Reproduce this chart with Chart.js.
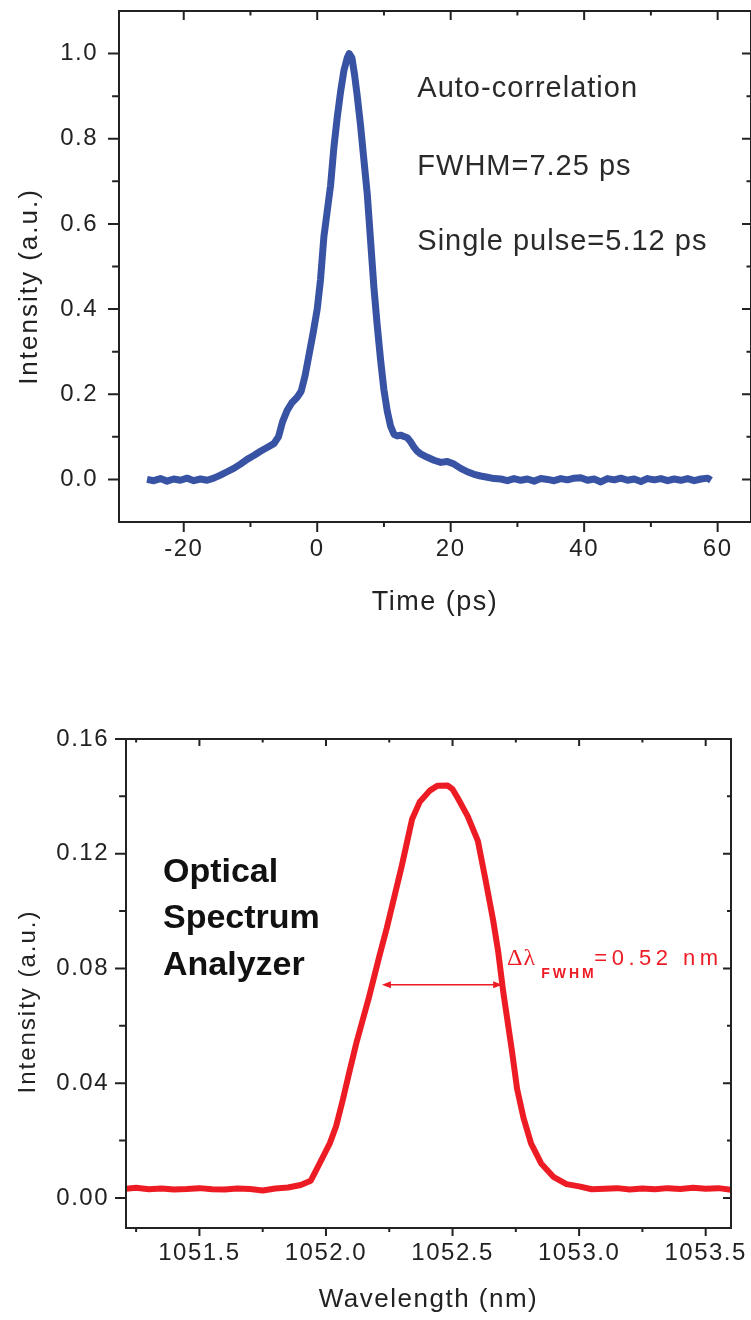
<!DOCTYPE html>
<html>
<head>
<meta charset="utf-8">
<script src="https://cdn.jsdelivr.net/npm/chart.js@4.4.1/dist/chart.umd.min.js"></script>
<style>
  body { margin: 0; background: #fff; }
  canvas { position: absolute; left: 0; }
  #acChart { top: 0; }
  #osaChart { top: 660px; }
</style>
</head>
<body>
<canvas id="acChart" width="751" height="640"></canvas>
<canvas id="osaChart" width="751" height="660"></canvas>
<script>
'use strict';

// --- auto-correlation trace (top panel) ---
var acTime = [-25.5, -24.5, -23.5, -22.5, -21.5, -20.5, -19.5, -18.5, -17.5, -16.5,
  -15.5, -14.5, -13.5, -12.5, -11.5, -10.5, -9.5, -8.5, -7.5, -6.5,
  -5.8, -5.2, -4.5, -3.8, -3.0, -2.4, -1.8, -1.2, -0.6, 0.0,
  0.5, 1.0, 1.5, 2.0, 2.5, 3.0, 3.5, 4.0, 4.5, 4.8,
  5.2, 5.6, 6.0, 6.5, 7.0, 7.5, 8.0, 8.5, 9.0, 9.5,
  10.0, 10.5, 11.0, 11.5, 12.0, 12.5, 13.0, 13.5, 14.0, 14.5,
  15.0, 15.5, 16.5, 17.5, 18.5, 19.5, 20.5, 21.5, 22.5, 23.5,
  24.5, 25.5, 26.5, 27.5, 28.5, 29.5, 30.5, 31.5, 32.5, 33.5,
  34.5, 35.5, 36.5, 37.5, 38.5, 39.5, 40.5, 41.5, 42.5, 43.5,
  44.5, 45.5, 46.5, 47.5, 48.5, 49.5, 50.5, 51.5, 52.5, 53.5,
  54.5, 55.5, 56.5, 57.5, 58.5, 59.0];
var acIntensity = [0.000, -0.003, 0.002, -0.004, 0.001, -0.002, 0.003, -0.003, 0.001, -0.002,
  0.003, 0.010, 0.018, 0.026, 0.036, 0.047, 0.056, 0.066, 0.075, 0.084,
  0.100, 0.135, 0.162, 0.180, 0.193, 0.207, 0.245, 0.295, 0.345, 0.400,
  0.470, 0.570, 0.630, 0.690, 0.780, 0.850, 0.910, 0.960, 0.990, 1.000,
  0.990, 0.950, 0.900, 0.830, 0.750, 0.670, 0.560, 0.450, 0.360, 0.280,
  0.210, 0.160, 0.125, 0.106, 0.102, 0.104, 0.101, 0.098, 0.088, 0.076,
  0.066, 0.060, 0.052, 0.045, 0.040, 0.042, 0.036, 0.026, 0.018, 0.012,
  0.008, 0.005, 0.002, 0.001, -0.003, 0.002, -0.002, 0.001, -0.004, 0.002,
  0.000, -0.003, 0.002, -0.001, 0.003, 0.004, -0.002, 0.001, -0.006, 0.002,
  -0.001, 0.003, -0.002, 0.001, -0.005, 0.002, -0.001, 0.002, -0.003, 0.001,
  -0.002, 0.002, -0.003, 0.001, 0.003, -0.002];
var acXTicks = [-20, 0, 20, 40, 60];
var acXMinor = [-10, 10, 30, 50];
var acYTicks = [0, 0.2, 0.4, 0.6, 0.8, 1.0];
var acYMinor = [0.1, 0.3, 0.5, 0.7, 0.9];

// --- optical spectrum (bottom panel) ---
var osaWavelength = [1051.21, 1051.25, 1051.30, 1051.35, 1051.40, 1051.45, 1051.50, 1051.55, 1051.60, 1051.65,
  1051.70, 1051.75, 1051.80, 1051.85, 1051.90, 1051.94, 1051.975, 1052.015, 1052.04, 1052.066,
  1052.09, 1052.12, 1052.145, 1052.17, 1052.21, 1052.24, 1052.27, 1052.30, 1052.32, 1052.34,
  1052.37, 1052.41, 1052.44, 1052.48, 1052.50, 1052.52, 1052.56, 1052.60, 1052.63, 1052.66,
  1052.68, 1052.70, 1052.72, 1052.735, 1052.755, 1052.78, 1052.81, 1052.85, 1052.90, 1052.95,
  1053.00, 1053.05, 1053.10, 1053.15, 1053.20, 1053.25, 1053.30, 1053.35, 1053.40, 1053.45,
  1053.50, 1053.55, 1053.60];
var osaIntensity = [0.0032, 0.0035, 0.0030, 0.0033, 0.0029, 0.0031, 0.0034, 0.0030, 0.0029, 0.0033,
  0.0031, 0.0026, 0.0033, 0.0036, 0.0045, 0.0060, 0.0120, 0.0190, 0.0250, 0.0340,
  0.0430, 0.0540, 0.0620, 0.0700, 0.0840, 0.0940, 0.1050, 0.1160, 0.1240, 0.1320,
  0.1380, 0.1420, 0.1437, 0.1438, 0.1425, 0.1395, 0.1330, 0.1245, 0.1110, 0.0970,
  0.0860, 0.0720, 0.0600, 0.0510, 0.0380, 0.0280, 0.0190, 0.0120, 0.0072, 0.0048,
  0.0040, 0.0030, 0.0032, 0.0034, 0.0029, 0.0033, 0.0030, 0.0034, 0.0031, 0.0035,
  0.0032, 0.0034, 0.0028];
var osaXTicks = [1051.5, 1052.0, 1052.5, 1053.0, 1053.5];
var osaXMinor = [1051.25, 1051.75, 1052.25, 1052.75, 1053.25];
var osaYTicks = [0, 0.04, 0.08, 0.12, 0.16];
var osaYMinor = [0.02, 0.06, 0.10, 0.14];

var FONT = '"Liberation Sans", Arial, sans-serif';
var INK = '#222';
var BLUE = '#3953a4';
var RED = '#ed1c24';

function toPoints(xs, ys) {
  return xs.map(function (x, i) { return {x: x, y: ys[i]}; });
}

function fixedTicks(values) {
  return function (scale) {
    scale.ticks = values.map(function (v) { return {value: v}; });
  };
}

// box frame, tick marks, y title and text notes
function framePlugin(f) {
  return {
    id: 'frame',
    beforeDraw: function (chart) {
      chart.ctx.letterSpacing = '1.5px';
    },
    afterDraw: function (chart) {
      var ctx = chart.ctx, a = chart.chartArea;
      var sx = chart.scales.x, sy = chart.scales.y;
      ctx.save();
      ctx.strokeStyle = INK;
      ctx.lineWidth = 2;
      ctx.strokeRect(a.left, a.top, a.right - a.left, a.bottom - a.top);
      ctx.beginPath();
      function xMarks(vals, out, inn) {
        vals.forEach(function (v) {
          var px = sx.getPixelForValue(v);
          ctx.moveTo(px, a.bottom); ctx.lineTo(px, a.bottom + out);
          ctx.moveTo(px, a.top); ctx.lineTo(px, a.top + inn);
        });
      }
      function yMarks(vals, out, inn) {
        vals.forEach(function (v) {
          var py = sy.getPixelForValue(v);
          ctx.moveTo(a.left - out, py); ctx.lineTo(a.left, py);
          ctx.moveTo(a.right, py); ctx.lineTo(a.right - inn, py);
        });
      }
      xMarks(f.xMajor, f.tick[0], f.tick[1]);
      xMarks(f.xMinor, f.tick[0] / 2, f.tick[1] / 2);
      yMarks(f.yMajor, f.tick[2], f.tick[3]);
      yMarks(f.yMinor, f.tick[2] / 1.6, f.tick[3] / 2);
      ctx.stroke();

      // rotated y title
      ctx.save();
      ctx.translate(f.yTitle.x, (a.top + a.bottom) / 2 + f.yTitle.shift);
      ctx.rotate(-Math.PI / 2);
      ctx.fillStyle = INK;
      ctx.font = f.yTitle.size + 'px ' + FONT;
      ctx.letterSpacing = '2px';
      ctx.textAlign = 'center';
      ctx.textBaseline = 'middle';
      ctx.fillText('Intensity (a.u.)', 0, 0);
      ctx.restore();

      // notes placed in data coordinates
      ctx.textAlign = 'left';
      ctx.textBaseline = 'alphabetic';
      f.notes.forEach(function (n) {
        ctx.font = n.font;
        ctx.fillStyle = n.color;
        ctx.letterSpacing = n.spacing;
        ctx.fillText(n.text, sx.getPixelForValue(n.x), sy.getPixelForValue(n.y));
      });

      if (f.arrow) {
        var x0 = sx.getPixelForValue(f.arrow.x0);
        var x1 = sx.getPixelForValue(f.arrow.x1);
        var y = sy.getPixelForValue(f.arrow.y);
        ctx.strokeStyle = f.arrow.color;
        ctx.fillStyle = f.arrow.color;
        ctx.lineWidth = 1.5;
        ctx.beginPath();
        ctx.moveTo(x0 + 6, y); ctx.lineTo(x1 - 6, y);
        ctx.stroke();
        ctx.beginPath();
        ctx.moveTo(x0, y); ctx.lineTo(x0 + 9, y - 3.5); ctx.lineTo(x0 + 9, y + 3.5);
        ctx.closePath();
        ctx.moveTo(x1, y); ctx.lineTo(x1 - 9, y - 3.5); ctx.lineTo(x1 - 9, y + 3.5);
        ctx.closePath();
        ctx.fill();
      }
      ctx.restore();
    }
  };
}

function axis(min, max, ticks, fmt, pad, fit, title) {
  return {
    type: 'linear',
    min: min,
    max: max,
    afterBuildTicks: fixedTicks(ticks),
    afterFit: function (s) {
      fit(s);
      s.paddingTop = 0; s.paddingBottom = 0;
      s.paddingLeft = 0; s.paddingRight = 0;
    },
    grid: {display: false, drawTicks: false},
    border: {display: false},
    ticks: {
      padding: pad,
      color: INK,
      autoSkip: false,
      maxRotation: 0,
      font: {family: FONT, size: 24},
      callback: fmt
    },
    title: title || {display: false}
  };
}

// Auto-correlation
new Chart(document.getElementById('acChart'), {
  type: 'scatter',
  data: {
    datasets: [{
      data: toPoints(acTime, acIntensity),
      showLine: true,
      borderColor: BLUE,
      backgroundColor: BLUE,
      borderWidth: 7,
      borderJoinStyle: 'round',
      pointRadius: 0
    }]
  },
  options: {
    responsive: false,
    animation: false,
    layout: {padding: {top: 11, right: 0, bottom: 0, left: 0}},
    plugins: {legend: {display: false}, tooltip: {enabled: false}},
    scales: {
      x: axis(-29.7, 65, acXTicks, function (v) { return String(v); }, 13,
        function (s) { s.height = 118; },
        {display: true, text: 'Time (ps)', color: INK, font: {family: FONT, size: 27}, padding: {top: 0, bottom: 21}}),
      y: axis(-0.1, 1.1, acYTicks, function (v) { return v.toFixed(1); }, 21,
        function (s) { s.width = 119; })
    }
  },
  plugins: [framePlugin({
    xMajor: acXTicks, xMinor: acXMinor, yMajor: acYTicks, yMinor: acYMinor,
    tick: [10, 9, 11, 9],
    yTitle: {x: 30, shift: 20, size: 26},
    notes: [
      {text: 'Auto-correlation', x: 15, y: 0.897, font: '29px ' + FONT, color: '#2a2a2a', spacing: '1px'},
      {text: 'FWHM=7.25 ps', x: 15, y: 0.714, font: '29px ' + FONT, color: '#2a2a2a', spacing: '1px'},
      {text: 'Single pulse=5.12 ps', x: 15, y: 0.539, font: '29px ' + FONT, color: '#2a2a2a', spacing: '1px'}
    ]
  })]
});

// Optical spectrum
new Chart(document.getElementById('osaChart'), {
  type: 'scatter',
  data: {
    datasets: [{
      data: toPoints(osaWavelength, osaIntensity),
      showLine: true,
      borderColor: RED,
      backgroundColor: RED,
      borderWidth: 6,
      borderJoinStyle: 'round',
      pointRadius: 0
    }]
  },
  options: {
    responsive: false,
    animation: false,
    layout: {padding: {top: 79, right: 20, bottom: 0, left: 0}},
    plugins: {legend: {display: false}, tooltip: {enabled: false}},
    scales: {
      x: axis(1051.21, 1053.6, osaXTicks, function (v) { return v.toFixed(1); }, 11,
        function (s) { s.height = 92; },
        {display: true, text: 'Wavelength (nm)', color: INK, font: {family: FONT, size: 26}, padding: {top: 0, bottom: 5}}),
      y: axis(-0.0105, 0.16, osaYTicks, function (v) { return v.toFixed(2); }, 17,
        function (s) { s.width = 126; })
    }
  },
  plugins: [framePlugin({
    xMajor: osaXTicks, xMinor: osaXMinor, yMajor: osaYTicks, yMinor: osaYMinor,
    tick: [8, 7, 11, 8],
    yTitle: {x: 28, shift: 18, size: 24},
    notes: [
      {text: 'Optical', x: 1051.356, y: 0.1102, font: 'bold 34px ' + FONT, color: '#111', spacing: '0px'},
      {text: 'Spectrum', x: 1051.356, y: 0.0941, font: 'bold 34px ' + FONT, color: '#111', spacing: '0px'},
      {text: 'Analyzer', x: 1051.356, y: 0.0778, font: 'bold 34px ' + FONT, color: '#111', spacing: '0px'},
      {text: 'Δλ', x: 1052.715, y: 0.0813, font: '24px "Liberation Serif", serif', color: RED, spacing: '1px'},
      {text: 'FWHM', x: 1052.85, y: 0.0767, font: 'bold 14px ' + FONT, color: RED, spacing: '3px'},
      {text: '=0.52 nm', x: 1053.06, y: 0.0813, font: '22px ' + FONT, color: RED, spacing: '4.5px'}
    ],
    arrow: {x0: 1052.221, x1: 1052.696, y: 0.0743, color: RED}
  })]
});
</script>
</body>
</html>
